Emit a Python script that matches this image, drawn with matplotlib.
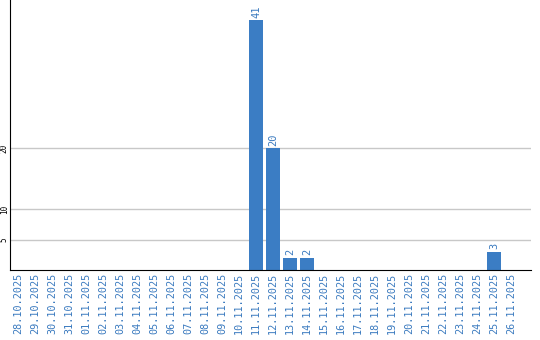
import matplotlib
matplotlib.use("Agg")
import matplotlib.pyplot as plt
import numpy as np

# data
dates = [
    "28.10.2025", "29.10.2025", "30.10.2025", "31.10.2025", "01.11.2025",
    "02.11.2025", "03.11.2025", "04.11.2025", "05.11.2025", "06.11.2025",
    "07.11.2025", "08.11.2025", "09.11.2025", "10.11.2025", "11.11.2025",
    "12.11.2025", "13.11.2025", "14.11.2025", "15.11.2025", "16.11.2025",
    "17.11.2025", "18.11.2025", "19.11.2025", "20.11.2025", "21.11.2025",
    "22.11.2025", "23.11.2025", "24.11.2025", "25.11.2025", "26.11.2025",
]
counts = [0, 0, 0, 0, 0, 0, 0, 0, 0, 0, 0, 0, 0, 0, 41,
          20, 2, 2, 0, 0, 0, 0, 0, 0, 0, 0, 0, 0, 3, 0]
yticks = [5, 10, 20]

bar_color = "#3b7dc4"
label_color = "#3a7abf"

fig = plt.figure(figsize=(5.4, 3.4), dpi=100)
ax = fig.add_axes([10 / 540, 70 / 340, 521 / 540, 270 / 340])

x = np.arange(len(dates))
ax.bar(x, counts, width=0.82, color=bar_color, zorder=2)

# value labels above non-zero bars
for xi, v in zip(x, counts):
    if v > 0:
        ax.text(xi, v + 0.4, str(v), rotation=90, ha="center", va="bottom",
                fontsize=7.5, color=label_color, family="DejaVu Sans Mono")

for y in yticks:
    ax.axhline(y, color="#c8c8c8", linewidth=1, zorder=0)

ax.set_xlim(-0.47, 30.18)
ax.set_ylim(0, 44.3)

ax.set_xticks(x)
ax.set_xticklabels(dates, rotation=90, fontsize=7.3, color=label_color,
                   family="DejaVu Sans Mono")
ax.set_yticks(yticks)
ax.set_yticklabels([str(t) for t in yticks], rotation=90, fontsize=5.5,
                   va="center", family="DejaVu Sans Mono")
ax.tick_params(axis="x", length=0, pad=2)
ax.tick_params(axis="y", length=0, pad=0.8)

ax.spines["top"].set_visible(False)
ax.spines["right"].set_visible(False)
ax.spines["left"].set_color("black")
ax.spines["bottom"].set_color("black")

fig.savefig("out.png", dpi=100)
